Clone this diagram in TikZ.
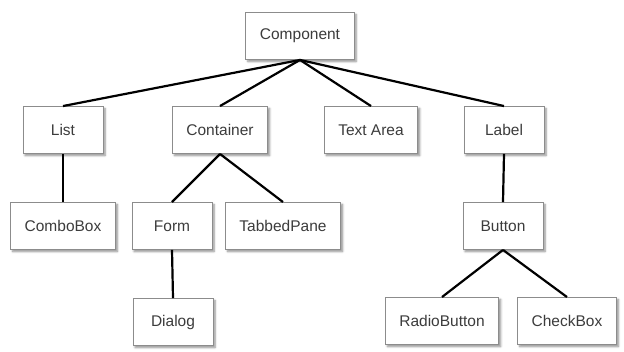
\documentclass[tikz,border=0pt]{standalone}
\usepackage{fontspec}
\setmainfont{Liberation Sans}
\usetikzlibrary{shadows,shadows.blur}
\definecolor{boxGray}{RGB}{140,140,140}
\definecolor{txtGray}{RGB}{60,60,60}
\tikzset{
    cls/.style={rectangle, draw=boxGray, line width=0.9pt, fill=white, text=txtGray,
                font=\fontsize{15.5}{18}\selectfont, minimum width=80pt, minimum height=47pt,
                inner xsep=14pt,
                blur shadow={shadow xshift=2pt, shadow yshift=-2pt, shadow opacity=45, shadow blur steps=6}},
    link/.style={line width=2.2pt, color=black}
}
\begin{document}
\begin{tikzpicture}[x=1pt, y=-1pt]
  \useasboundingbox (0,0) rectangle (624,352);
  % top level
  \node[cls] (comp) at (300,36) {Component};
  % second level
  \node[cls] (list) at (63,130) {List};
  \node[cls] (cont) at (220,130) {Container};
  \node[cls] (text) at (371,130) {Text Area};
  \node[cls] (label) at (504,130) {Label};
  % third level
  \node[cls] (combo) at (63,226) {ComboBox};
  \node[cls] (form) at (172,226) {Form};
  \node[cls] (tabs) at (283,226) {TabbedPane};
  \node[cls] (button) at (503,226) {Button};
  % fourth level
  \node[cls] (dialog) at (173,322) {Dialog};
  \node[cls] (radio) at (442,321) {RadioButton};
  \node[cls] (check) at (567,321) {CheckBox};
  % links
  \foreach \c in {list,cont,text,label}
    \draw[link] (comp.south) -- (\c.north);
  \draw[link] (list.south) -- (combo.north);
  \draw[link] (cont.south) -- (form.north);
  \draw[link] (cont.south) -- (tabs.north);
  \draw[link] (form.south) -- (dialog.north);
  \draw[link] (label.south) -- (button.north);
  \draw[link] (button.south) -- (radio.north);
  \draw[link] (button.south) -- (check.north);
\end{tikzpicture}
\end{document}
